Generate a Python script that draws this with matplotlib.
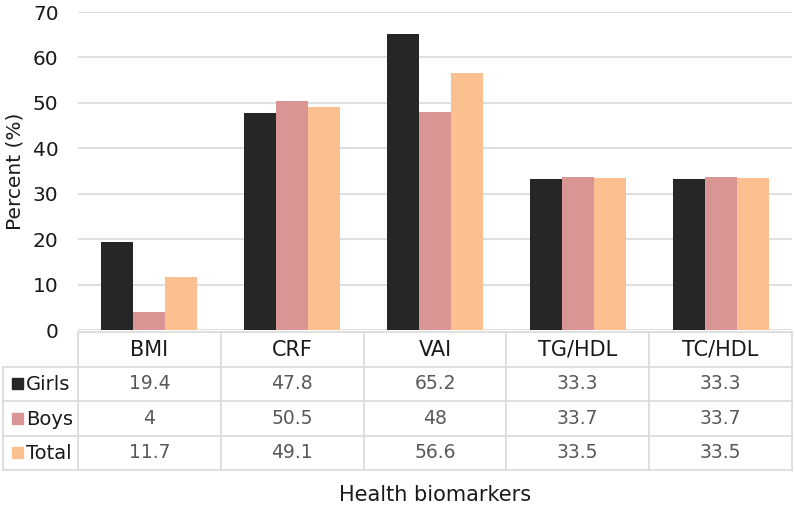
import matplotlib
matplotlib.use("Agg")
import matplotlib.pyplot as plt
from matplotlib.patches import Rectangle
import numpy as np

categories = ["BMI", "CRF", "VAI", "TG/HDL", "TC/HDL"]
series_names = ["Girls", "Boys", "Total"]
girls = [19.4, 47.8, 65.2, 33.3, 33.3]
boys = [4, 50.5, 48, 33.7, 33.7]
total = [11.7, 49.1, 56.6, 33.5, 33.5]
yticks = [0, 10, 20, 30, 40, 50, 60, 70]

colors = ["#262626", "#d99594", "#fac090"]
grid_c = "#d9d9d9"
text_c = "#1a1a1a"
val_c = "#595959"

plt.rcParams['font.family'] = ['DejaVu Sans']

W, H = 795, 514
fig = plt.figure(figsize=(W / 100, H / 100), dpi=100)

def px(x0, y0, x1, y1):
    return [x0 / W, 1 - y1 / H, (x1 - x0) / W, (y1 - y0) / H]

ax_left, ax_right, ax_top, ax_bot = 78, 792, 12, 330
ax = fig.add_axes(px(ax_left, ax_top, ax_right, ax_bot))
n = len(categories)
x = np.arange(n)
bw = 0.224
data = [girls, boys, total]
for i, (vals, c) in enumerate(zip(data, colors)):
    ax.bar(x + (i - 1) * bw, vals, width=bw, color=c, zorder=3)
ax.set_xlim(-0.5, n - 0.5)
ax.set_ylim(0, 70)
ax.set_yticks(yticks)
ax.set_yticklabels([str(t) for t in yticks], fontsize=14.5, color=text_c)
ax.tick_params(axis='y', length=0, pad=14)
ax.set_xticks([])
ax.grid(axis='y', color=grid_c, linewidth=1.2, zorder=0)
for s in ax.spines.values():
    s.set_visible(False)
ax.set_ylabel("Percent (%)", fontsize=14.5, color=text_c)
ax.yaxis.set_label_coords(-(ax_left - 24) / (ax_right - ax_left), 0.5)

# table
tab_left, tab_top, tab_bot = 3, 332, 470
ext = (ax_left - tab_left) / ((ax_right - ax_left) / n)
tax = fig.add_axes(px(tab_left, tab_top, ax_right, tab_bot))
tax.set_xlim(-0.5 - ext, n - 0.5)
tax.set_ylim(4, 0)
tax.axis('off')
lw = 1.2
tax.plot([-0.5, n - 0.5], [0, 0], color=grid_c, lw=lw, clip_on=False)
for r in [1, 2, 3, 4]:
    tax.plot([-0.5 - ext, n - 0.5], [r, r], color=grid_c, lw=lw, clip_on=False)
for k in range(n + 1):
    tax.plot([k - 0.5, k - 0.5], [0, 4], color=grid_c, lw=lw, clip_on=False)
tax.plot([-0.5 - ext, -0.5 - ext], [1, 4], color=grid_c, lw=lw, clip_on=False)

unit_px = (ax_right - ax_left) / n
row_px = (tab_bot - tab_top) / 4
sq_w = 11 / unit_px
sq_h = 11 / row_px
for k, cat in enumerate(categories):
    tax.text(k, 0.52, cat, ha='center', va='center', fontsize=15, color=text_c)
for r, (name, vals, c) in enumerate(zip(series_names, data, colors)):
    yy = r + 1.5
    x0 = -0.5 - ext + 9 / unit_px
    tax.add_patch(Rectangle((x0, yy - sq_h / 2), sq_w, sq_h, color=c, clip_on=False))
    tax.text(-0.5 - ext + 23 / unit_px, yy + 0.03, name, ha='left', va='center',
             fontsize=14, color=text_c)
    for k, v in enumerate(vals):
        tax.text(k, yy, f"{v:g}", ha='center', va='center', fontsize=13.5, color=val_c)

fig.text((ax_left + ax_right) / 2 / W, 1 - 495 / H, "Health biomarkers",
         ha='center', va='center', fontsize=15, color=text_c)

fig.savefig("out.png", dpi=100, facecolor='white')
